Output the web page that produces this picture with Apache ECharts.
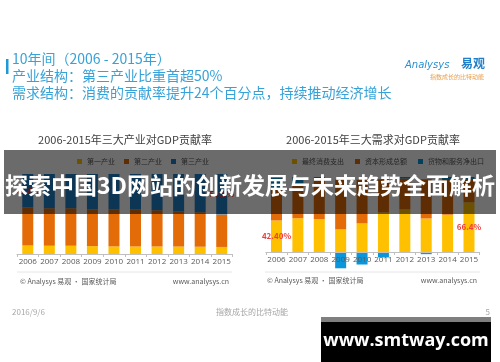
<!DOCTYPE html>
<html>
<head>
<meta charset="utf-8">
<script src="https://cdn.jsdelivr.net/npm/echarts@6/dist/echarts.min.js"></script>
<style>
html,body{margin:0;padding:0;background:#fff;}
#c{width:500px;height:362px;}
</style>
</head>
<body>
<div id="c"></div>
<script>
// ---- data ----
const years = ['2006','2007','2008','2009','2010','2011','2012','2013','2014','2015'];
// left: three industries (%)
const industryNames = ['第一产业','第二产业','第三产业'];
const primary   = [10.6,10.3,10.3,9.8,9.5,9.4,9.4,9.3,9.1,8.8];
const secondary = [47.6,46.9,46.9,45.9,46.4,46.4,45.3,44.0,43.1,40.7];
const tertiary  = [41.8,42.8,42.8,44.3,44.1,44.2,45.3,46.7,47.8,50.5];
// right: three demands (%)
const demandNames = ['最终消费支出','资本形成总额','货物和服务净出口'];
const consumption = [42.4,45.3,44.2,30.5,38.5,53.0,57.0,45.0,50.0,66.4];
const capital     = [42.9,44.1,53.2,66.0,58.0,44.0,41.0,52.0,46.0,31.0];
const netExport   = [14.7,10.6,2.6,-21.0,-16.0,-6.6,2.0,-2.3,4.0,2.6];
// labelled points
const leftLabelIdx = [0, 9];   // tertiary
const rightLabelIdx = [0, 9];  // consumption
const leftLabelText = ['41.8%', '50.5%'];
const rightLabelText = ['42.40%', '66.4%'];

const CJK = '"Noto Sans CJK SC","Noto Sans",sans-serif';
const redLabel = {show:true, position:'inside', fontSize:8, fontWeight:'bold', color:'#f23c3c', fontFamily:CJK};

function withLabels(arr, idx, texts){
  return arr.map((v,i)=>{
    const k = idx.indexOf(i);
    if(k<0) return v;
    return {value:v, label:Object.assign({}, redLabel, {formatter:texts[k]})};
  });
}

const chart = echarts.init(document.getElementById('c'), null, {width:500, height:362, renderer:'canvas'});

function xAxisCfg(extra){
  return Object.assign({
    type:'category', data:years, boundaryGap:true, z:5,
    axisLine:{onZero:false, lineStyle:{color:'#bfbfbf', width:1}},
    axisTick:{show:true, length:3, lineStyle:{color:'#bfbfbf'}},
    axisLabel:{interval:0, fontSize:8, color:'#595959', margin:4, fontFamily:'"Open Sans","DejaVu Sans",sans-serif'}
  }, extra);
}
const yAxisCommon = {type:'value', show:false, splitLine:{show:false}};

const barW = 11;

const option = {
  animation:false,
  backgroundColor:'#ffffff',
  grid:[
    {left:17, right:267.5, top:174, bottom:108},
    {left:265.8, right:20.3, top:177, bottom:90.7}
  ],
  xAxis:[
    xAxisCfg({gridIndex:0}),
    xAxisCfg({gridIndex:1, offset:-19.3})
  ],
  yAxis:[
    Object.assign({gridIndex:0, min:0, max:100}, yAxisCommon),
    Object.assign({gridIndex:1, min:-25, max:100}, yAxisCommon)
  ],
  legend:[
    {data:industryNames, left:72, top:153, itemWidth:5, itemHeight:5, itemGap:9, icon:'rect',
     textStyle:{fontSize:7, color:'#595959', fontFamily:CJK}},
    {data:demandNames, left:287, top:153, itemWidth:5, itemHeight:5, itemGap:11, icon:'rect',
     textStyle:{fontSize:7, color:'#595959', fontFamily:CJK}}
  ],
  series:[
    {name:industryNames[0], type:'bar', stack:'L', xAxisIndex:0, yAxisIndex:0, barWidth:barW, data:primary, itemStyle:{color:'#ffc000'}},
    {name:industryNames[1], type:'bar', stack:'L', xAxisIndex:0, yAxisIndex:0, barWidth:barW, data:secondary, itemStyle:{color:'#e36c09'}},
    {name:industryNames[2], type:'bar', stack:'L', xAxisIndex:0, yAxisIndex:0, barWidth:barW, data:withLabels(tertiary, leftLabelIdx, leftLabelText), itemStyle:{color:'#1f7fc9'}},
    {name:demandNames[0], type:'bar', stack:'R', xAxisIndex:1, yAxisIndex:1, barWidth:barW, data:withLabels(consumption, rightLabelIdx, rightLabelText), itemStyle:{color:'#ffc000'}},
    {name:demandNames[1], type:'bar', stack:'R', xAxisIndex:1, yAxisIndex:1, barWidth:barW, data:capital, itemStyle:{color:'#e36c09'}},
    {name:demandNames[2], type:'bar', stack:'R', xAxisIndex:1, yAxisIndex:1, barWidth:barW, data:netExport, itemStyle:{color:'#0b96dc'}}
  ],
  graphic:[
    // header
    {type:'rect', left:6, top:59, shape:{width:2.5, height:15}, style:{fill:'#1a9ad6'}},
    {type:'text', left:12, top:52, style:{text:'10年间（2006 - 2015年）', fontSize:14, fill:'#37a2d8', fontFamily:CJK}},
    {type:'text', left:12, top:69, style:{text:'产业结构：第三产业比重首超50%', fontSize:14, fill:'#37a2d8', fontFamily:CJK}},
    {type:'text', left:12, top:86, style:{text:'需求结构：消费的贡献率提升24个百分点，持续推动经济增长', fontSize:14, fill:'#37a2d8', fontFamily:CJK}},
    // logo
    {type:'text', left:405, top:60, style:{text:'Analysys', fontSize:10, fontStyle:'italic', fill:'#2a8fd0', fontFamily:'"DejaVu Sans",sans-serif'}},
    {type:'text', left:461, top:57, style:{text:'易观', fontSize:12, fontWeight:'bold', fill:'#1f7fc9', fontFamily:CJK}},
    {type:'text', left:430, top:74, style:{text:'指数成长的比特动能', fontSize:6, fill:'#e8a050', fontFamily:CJK}},
    // chart titles
    {type:'text', x:125, y:140, style:{text:'2006-2015年三大产业对GDP贡献率', fontSize:11, fill:'#404040', fontFamily:CJK, align:'center', verticalAlign:'middle'}},
    {type:'text', x:373, y:140, style:{text:'2006-2015年三大需求对GDP贡献率', fontSize:11, fill:'#404040', fontFamily:CJK, align:'center', verticalAlign:'middle'}},
    // separators & sources
    {type:'line', shape:{x1:17, y1:272, x2:232, y2:272}, style:{stroke:'#e6e6e6', lineWidth:1}},
    {type:'line', shape:{x1:265, y1:272, x2:480, y2:272}, style:{stroke:'#e6e6e6', lineWidth:1}},
    {type:'text', x:20, y:281, style:{text:'© Analysys 易观 · 国家统计局', fontSize:7, fill:'#595959', fontFamily:CJK, verticalAlign:'middle'}},
    {type:'text', x:229, y:281, style:{text:'www.analysys.cn', fontSize:7, fill:'#595959', fontFamily:CJK, align:'right', verticalAlign:'middle'}},
    {type:'text', x:267, y:280, style:{text:'© Analysys 易观 · 国家统计局', fontSize:7, fill:'#595959', fontFamily:CJK, verticalAlign:'middle'}},
    {type:'text', x:477, y:280, style:{text:'www.analysys.cn', fontSize:7, fill:'#595959', fontFamily:CJK, align:'right', verticalAlign:'middle'}},
    // footer
    {type:'text', x:12, y:312, style:{text:'2016/9/6', fontSize:8, fill:'#a6a6a6', fontFamily:CJK, verticalAlign:'middle'}},
    {type:'text', x:252, y:312, style:{text:'指数成长的比特动能', fontSize:8, fill:'#a6a6a6', fontFamily:CJK, align:'center', verticalAlign:'middle'}},
    {type:'text', x:490, y:312, style:{text:'5', fontSize:8, fill:'#a6a6a6', fontFamily:CJK, align:'right', verticalAlign:'middle'}},
    // overlay banner
    {type:'rect', z:100, shape:{x:4, y:150, width:492, height:64}, style:{fill:'rgba(0,0,0,0.58)'}},
    {type:'text', z:101, x:250, y:185, style:{text:'探索中国3D网站的创新发展与未来趋势全面解析', fontSize:23, fontWeight:'bold', fill:'#ffffff', fontFamily:CJK, align:'center', verticalAlign:'middle'}},
    // watermark box
    {type:'rect', z:100, shape:{x:321, y:317, width:170, height:5}, style:{fill:'#7f7f7f'}},
    {type:'rect', z:100, shape:{x:321, y:322, width:170, height:40}, style:{fill:'#000000'}},
    {type:'text', z:101, x:406, y:341, style:{text:'www.smtway.com', fontSize:18, fontWeight:'bold', fill:'#ffffff', fontFamily:'"Open Sans","DejaVu Sans",sans-serif', align:'center', verticalAlign:'middle'}}
  ]
};
chart.setOption(option);
</script>
</body>
</html>
